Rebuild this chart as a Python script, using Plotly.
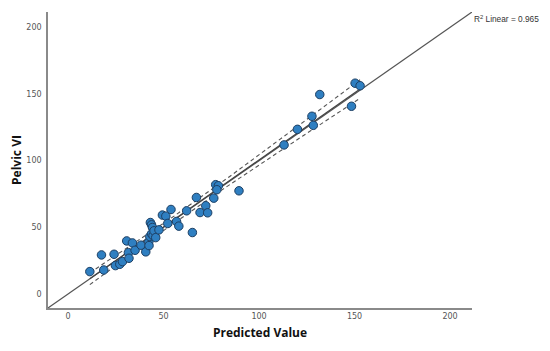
import numpy as np
import plotly.graph_objects as go

predicted = [11.4, 17.5, 18.7, 24.1, 24.8, 27.1, 28.5, 30.7, 31.6, 31.9, 33.7, 35.1, 38.2, 40.7,
             42.3, 42.4, 42.8, 43.1, 43.7, 44.2, 43.7, 44.5, 45.0, 45.9, 47.6, 49.4, 51.2, 52.2,
             53.9, 56.8, 58.0, 62.1, 65.1, 67.2, 69.1, 72.1, 73.1, 76.3, 77.3, 78.7, 77.9, 89.5,
             113.1, 120.1, 127.7, 128.4, 131.8, 148.4, 150.3, 152.9]
pelvic_vi = [16.8, 29.3, 18.0, 29.8, 21.3, 22.3, 24.3, 39.8, 31.0, 26.8, 38.3, 32.8, 36.6, 31.6,
             39.3, 36.3, 43.1, 53.6, 51.9, 49.9, 45.1, 43.8, 47.4, 42.3, 48.1, 59.2, 58.4, 52.9,
             63.4, 54.4, 50.9, 62.4, 46.1, 72.4, 61.1, 66.2, 60.9, 71.9, 82.0, 81.2, 78.2, 77.4,
             111.8, 123.5, 133.3, 126.5, 149.6, 140.8, 158.1, 156.2]
r2_label = "R<sup>2</sup> Linear = 0.965"
axis_ticks = [0, 50, 100, 150, 200]
axis_range = [-10.5, 211.5]

x = np.array(predicted)
y = np.array(pelvic_vi)
n = len(x)
b1, b0 = np.polyfit(x, y, 1)
resid = y - (b0 + b1 * x)
s = np.sqrt(np.sum(resid ** 2) / (n - 2))
xs = np.linspace(x.min(), x.max(), 100)
fit = b0 + b1 * xs
se = s * np.sqrt(1 / n + (xs - x.mean()) ** 2 / np.sum((x - x.mean()) ** 2))
t = 2.6
upper = fit + t * se
lower = fit - t * se

fig = go.Figure()
fig.add_trace(go.Scatter(x=axis_range, y=axis_range, mode="lines",
                         line=dict(color="#555555", width=1.2), hoverinfo="skip"))
fig.add_trace(go.Scatter(x=xs, y=fit, mode="lines", line=dict(color="#444444", width=1.2)))
fig.add_trace(go.Scatter(x=xs, y=upper, mode="lines", line=dict(color="#555555", width=1.1, dash="4px,3px")))
fig.add_trace(go.Scatter(x=xs, y=lower, mode="lines", line=dict(color="#555555", width=1.1, dash="4px,3px")))
fig.add_trace(go.Scatter(x=predicted, y=pelvic_vi, mode="markers",
                         marker=dict(size=8.5, color="#2f7fc1", line=dict(color="#1d3f63", width=1))))

fig.add_annotation(x=1, xref="paper", xanchor="left", xshift=0, y=206, yref="y",
                   text=r2_label, showarrow=False,
                   font=dict(family="Liberation Sans, Arial", size=8.3, color="#333333"))

axis_common = dict(range=axis_range, tickvals=axis_ticks, showgrid=False, zeroline=False,
                   showline=True, linecolor="#8a8a8a", linewidth=1.5, ticks="", automargin=False,
                   tickfont=dict(family="DejaVu Sans, Arial", size=8, color="#555555"))
fig.update_xaxes(**axis_common, ticklabelstandoff=0,
                 title=dict(text="<b>Predicted Value</b>", standoff=8,
                            font=dict(family="Open Sans, Arial", size=12, color="#111111")))
fig.update_yaxes(**axis_common, ticklabelstandoff=3,
                 title=dict(text="<b>Pelvic VI</b>", standoff=8,
                            font=dict(family="Open Sans, Arial", size=12, color="#111111")))
fig.update_layout(width=542, height=343, margin=dict(l=40, r=78, t=4, b=43),
                  plot_bgcolor="white", paper_bgcolor="white", showlegend=False)
fig.write_html("out.html")
